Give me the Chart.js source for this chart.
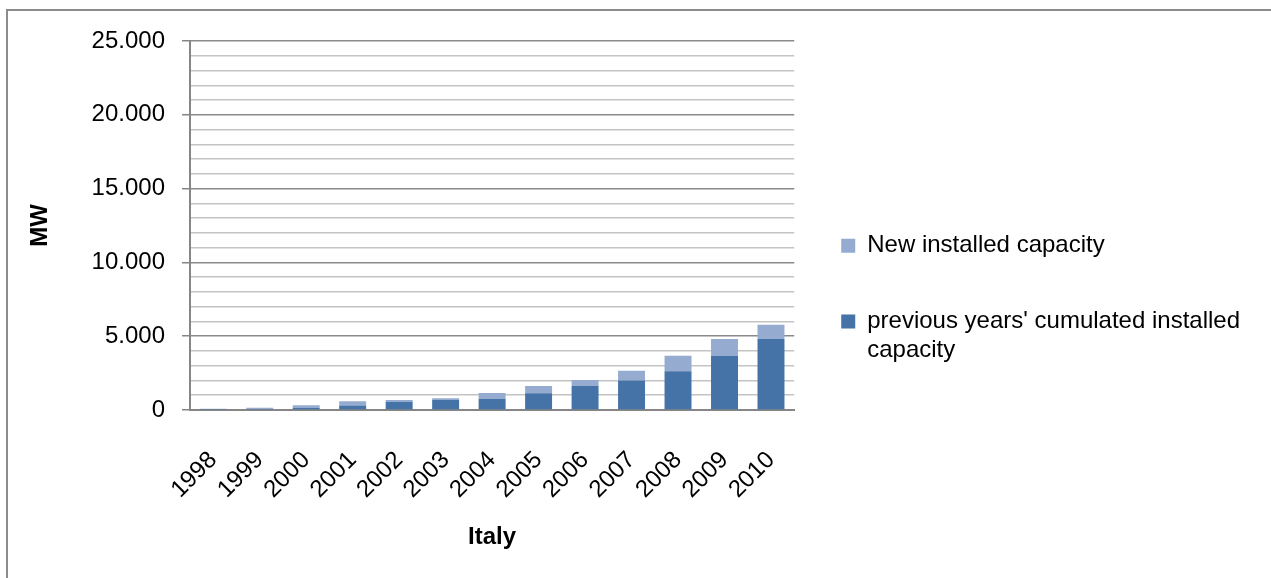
<!DOCTYPE html>
<html>
<head>
<meta charset="utf-8">
<script src="https://cdn.jsdelivr.net/npm/chart.js@4.4.0/dist/chart.umd.min.js"></script>
<style>
  html, body { margin: 0; padding: 0; background: #ffffff; overflow: hidden; }
  #frame { position: absolute; left: 6px; top: 9px; width: 1320px; height: 640px; border: 2px solid #8c8c8c; box-sizing: border-box; }
  #wrap { position: absolute; left: 0; top: 0; width: 1271px; height: 578px; }
</style>
</head>
<body>
<div id="frame"></div>
<div id="wrap"><canvas id="c"></canvas></div>
<script>
// ---- data ----
const years = ['1998','1999','2000','2001','2002','2003','2004','2005','2006','2007','2008','2009','2010'];
const previousCumulated = [60, 75, 150, 300, 560, 670, 770, 1140, 1630, 2000, 2620, 3680, 4810];
const newInstalled = [20, 75, 180, 300, 110, 130, 390, 490, 400, 660, 1060, 1130, 960];
const seriesNames = ["previous years' cumulated installed capacity", 'New installed capacity'];
const legendLines = [["previous years' cumulated installed", 'capacity'], ['New installed capacity']];
const yTickMax = 25000;
const yMajorStep = 5000;
const yMinorStep = 1000;
const xTitle = 'Italy';
const yTitle = 'MW';

const FONT = "'Liberation Sans', Arial, sans-serif";

function fmt(v) {
  return String(v).replace(/\B(?=(\d{3})+(?!\d))/g, '.');
}

new Chart(document.getElementById('c'), {
  type: 'bar',
  data: {
    labels: years,
    datasets: [
      { label: seriesNames[0], data: previousCumulated, backgroundColor: '#4572a7' },
      { label: seriesNames[1], data: newInstalled, backgroundColor: '#95abd0' }
    ]
  },
  options: {
    responsive: true,
    maintainAspectRatio: false,
    animation: false,
    layout: { padding: { left: 22, top: 41, right: 21, bottom: 18 } },
    datasets: { bar: { barPercentage: 1, categoryPercentage: 0.58 } },
    plugins: {
      tooltip: { enabled: false },
      legend: {
        position: 'right',
        align: 'center',
        reverse: true,
        maxWidth: 700,
        labels: {
          boxWidth: 14,
          boxHeight: 14,
          padding: 47,
          color: '#000',
          font: { family: FONT, size: 24 },
          generateLabels(chart) {
            const items = Chart.defaults.plugins.legend.labels.generateLabels(chart);
            items.forEach(it => { it.text = legendLines[it.datasetIndex]; it.lineWidth = 0; });
            return items;
          }
        }
      }
    },
    scales: {
      x: {
        stacked: true,
        afterFit: s => { s.height = 150; },
        grid: { display: false, drawTicks: false },
        border: { display: true, color: '#868686', width: 2 },
        ticks: {
          color: '#000',
          font: { family: FONT, size: 24 },
          minRotation: 45, maxRotation: 45,
          autoSkip: false,
          padding: 36
        },
        title: {
          display: true, text: xTitle, color: '#000',
          font: { family: FONT, size: 24, weight: 'bold' },
          padding: { top: 4, bottom: 8 }
        }
      },
      y: {
        stacked: true,
        min: 0,
        max: yTickMax,
        afterFit: s => { s.width = 168; },
        border: { display: true, color: '#868686', width: 2 },
        grid: {
          color: ctx => (ctx.tick && ctx.tick.value % yMajorStep === 0) ? '#8a8a8a' : '#c4c4c4',
          tickColor: ctx => (ctx.tick && ctx.tick.value % yMajorStep === 0) ? '#868686' : 'rgba(0,0,0,0)',
          lineWidth: 1.5,
          tickLength: 8
        },
        ticks: {
          stepSize: yMinorStep,
          autoSkip: false,
          color: '#000',
          padding: 17,
          font: { family: FONT, size: 24 },
          callback: v => (v % yMajorStep === 0 ? fmt(v) : '')
        },
        title: {
          display: true, text: yTitle, color: '#000',
          font: { family: FONT, size: 24, weight: 'bold' },
          padding: { top: 4, bottom: 4 }
        }
      }
    }
  }
});
</script>
</body>
</html>
